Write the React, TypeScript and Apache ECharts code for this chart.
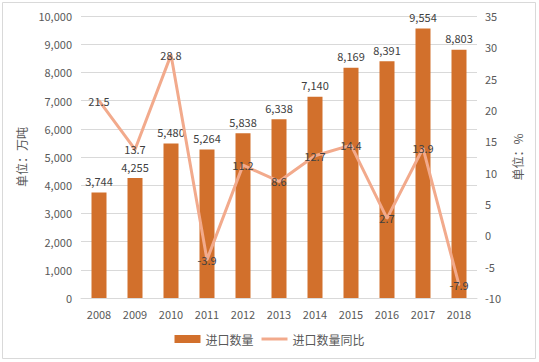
import React, { useEffect, useRef } from "react";
import * as echarts from "echarts";

const years = ["2008", "2009", "2010", "2011", "2012", "2013", "2014", "2015", "2016", "2017", "2018"];
const importQty = [3744, 4255, 5480, 5264, 5838, 6338, 7140, 8169, 8391, 9554, 8803];
const yoy = [21.5, 13.7, 28.8, -3.9, 11.2, 8.6, 12.7, 14.4, 2.7, 13.9, -7.9];

const FONT = "'Noto Sans CJK SC', 'Noto Sans', sans-serif";
const TXT = "#595959";

export default function App() {
  const ref = useRef<HTMLDivElement>(null);
  useEffect(() => {
    if (!ref.current) return;
    const chart = echarts.init(ref.current, undefined, { renderer: "svg" });
    chart.setOption({
      animation: false,
      backgroundColor: "#fff",
      textStyle: { fontFamily: FONT },
      graphic: [
        {
          type: "rect",
          shape: { x: 2.5, y: 2.5, width: 533, height: 356 },
          style: { fill: "none", stroke: "#d9d9d9", lineWidth: 1 },
        },
      ],
      grid: { left: 81, right: 62, top: 16, bottom: 64 },
      legend: {
        bottom: 12,
        left: "center",
        itemGap: 8,
        itemWidth: 26,
        itemHeight: 8,
        textStyle: { color: TXT, fontSize: 12, fontFamily: FONT },
        data: [
          { name: "进口数量", icon: "rect" },
          { name: "进口数量同比", icon: "path://M0,0H26V3H0Z" },
        ],
      },
      xAxis: {
        type: "category",
        data: years,
        axisLine: { lineStyle: { color: "#d9d9d9" } },
        axisTick: { show: false },
        axisLabel: { color: TXT, fontSize: 11, margin: 10 },
      },
      yAxis: [
        {
          type: "value",
          min: 0,
          max: 10000,
          interval: 1000,
          name: "单位：万吨",
          nameLocation: "middle",
          nameRotate: 90,
          nameGap: 54,
          nameTextStyle: { color: TXT, fontSize: 12 },
          axisLine: { show: false },
          axisTick: { show: false },
          axisLabel: {
            color: TXT,
            fontSize: 11,
            margin: 9,
            formatter: (v: number) => v.toLocaleString("en-US"),
          },
          splitLine: { lineStyle: { color: "#d9d9d9" } },
        },
        {
          type: "value",
          min: -10,
          max: 35,
          interval: 5,
          name: "单位：%",
          nameLocation: "middle",
          nameRotate: 90,
          nameGap: 30,
          nameTextStyle: { color: TXT, fontSize: 12, padding: [0, 0, 12, 0] },
          axisLine: { show: false },
          axisTick: { show: false },
          axisLabel: { color: TXT, fontSize: 11, margin: 8 },
          splitLine: { show: false },
        },
      ],
      series: [
        {
          name: "进口数量",
          type: "bar",
          data: importQty,
          barWidth: 15,
          itemStyle: { color: "#D2702C" },
          label: {
            show: true,
            position: "top",
            distance: 6,
            color: "#404040",
            fontSize: 11,
            formatter: (p: any) => Number(p.value).toLocaleString("en-US"),
          },
        },
        {
          name: "进口数量同比",
          type: "line",
          yAxisIndex: 1,
          data: yoy,
          symbol: "circle",
          symbolSize: 2,
          lineStyle: { color: "#F2AA8C", width: 3 },
          itemStyle: { color: "#F2AA8C" },
          label: {
            show: true,
            position: "inside",
            color: "#404040",
            fontSize: 11,
          },
        },
      ],
    });
    return () => chart.dispose();
  }, []);
  return <div ref={ref} style={{ width: 539, height: 362, position: "absolute", left: 0, top: 0 }} />;
}
